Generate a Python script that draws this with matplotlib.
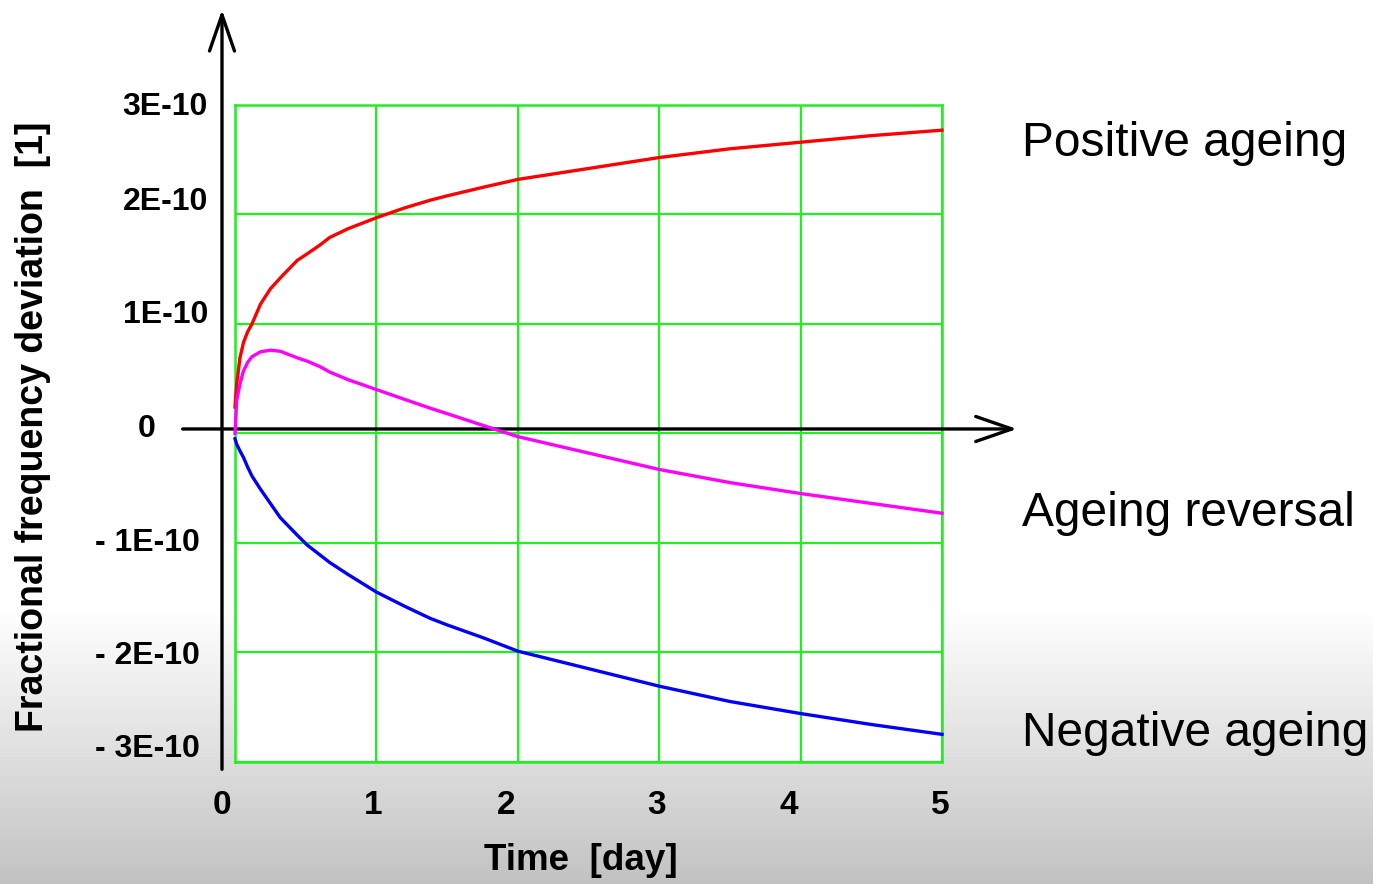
import numpy as np
import matplotlib
matplotlib.use('Agg')
import matplotlib.pyplot as plt

plt.rcParams['font.family'] = ['Liberation Sans', 'DejaVu Sans']

# time axis [day] and the three ageing curves, in units of 1E-10
t_days = [0, 0.012, 0.035, 0.06, 0.09, 0.12, 0.18, 0.25, 0.32, 0.44, 0.51, 0.6, 0.67,
          0.8, 1.0, 1.2, 1.38, 1.5, 1.76, 2.0, 2.5, 3.0, 3.5, 4.0, 4.5, 5.0]
positive = [0.24, 0.45, 0.69, 0.83, 0.93, 1.0, 1.18, 1.32, 1.42, 1.58, 1.64, 1.72, 1.79,
            1.87, 1.97, 2.06, 2.13, 2.17, 2.25, 2.32, 2.42, 2.52, 2.60, 2.66, 2.72, 2.77]
reversal = [0.0, 0.30, 0.45, 0.57, 0.65, 0.70, 0.745, 0.76, 0.75, 0.69, 0.66, 0.61, 0.56,
            0.49, 0.40, 0.31, 0.23, 0.18, 0.07, -0.03, -0.18, -0.33, -0.45, -0.55, -0.64, -0.73]
negative = [-0.05, -0.10, -0.16, -0.22, -0.31, -0.39, -0.51, -0.64, -0.77, -0.93, -1.02, -1.11, -1.18,
            -1.29, -1.45, -1.58, -1.69, -1.75, -1.87, -1.99, -2.15, -2.31, -2.45, -2.56, -2.66, -2.75]

x_ticks = [0, 1, 2, 3, 4, 5]
y_ticks = [3, 2, 1, 0, -1, -2, -3]
y_tick_labels = ['3E-10', '2E-10', '1E-10', '0', '- 1E-10', '- 2E-10', '- 3E-10']
curve_names = ['Positive ageing', 'Ageing reversal', 'Negative ageing']

W, H = 1373, 884
fig = plt.figure(figsize=(W / 100, H / 100), dpi=100)


def fx(px):
    return px / W


def fy(py):
    return 1 - py / H


# grey fade towards the bottom edge
bg = fig.add_axes([0, 0, 1, 1], zorder=0)
rows = np.arange(H)
shade = np.where(rows < 610, 1.0, 1.0 - 0.24 * (rows - 610) / (H - 610))
bg.imshow(np.dstack([shade[:, None]] * 3), aspect='auto', extent=[0, 1, 0, 1])
bg.set_axis_off()

ax = fig.add_axes([fx(235), fy(761.7), 707 / W, 656.7 / H], zorder=1)
ax.set_facecolor('white')
ax.set_xlim(0, 5)
ax.set_ylim(-3, 3)
ax.set_xticks(x_ticks)
ax.set_yticks(y_ticks)
ax.tick_params(length=0, labelbottom=False, labelleft=False)
ax.grid(True, color='#22ee22', lw=1.6)
for s in ax.spines.values():
    s.set_color('#22ee22')
    s.set_linewidth(1.8)

ax.plot(t_days, positive, color='#ff0000', lw=2.4, zorder=5, clip_on=False)
ax.plot(t_days, reversal, color='#ff00ff', lw=2.4, zorder=5, clip_on=False)
ax.plot(t_days, negative, color='#0000ff', lw=2.4, zorder=5, clip_on=False)

# black coordinate arrows
arrow = dict(arrowstyle='->,head_length=1.3,head_width=0.45', lw=2.4, color='black',
             shrinkA=0, shrinkB=0, mutation_scale=20)
ax.annotate('', xy=(-0.092, 3.87), xytext=(-0.092, -3.07), arrowprops=arrow,
            annotation_clip=False, zorder=4)
ax.annotate('', xy=(5.53, 0.04), xytext=(-0.37, 0.04), arrowprops=arrow,
            annotation_clip=False, zorder=4)

# tick labels
y_label_px = [107, 202, 315, 429, 543, 656, 749]
y_label_right = [208, 208, 208, 156, 200, 200, 200]
for lab, py, px in zip(y_tick_labels, y_label_px, y_label_right):
    fig.text(fx(px), fy(py), lab, ha='right', va='center', fontsize=23,
             fontweight='bold', zorder=3)
x_label_px = [222, 373, 506, 657, 789, 940]
for v, px in zip(x_ticks, x_label_px):
    fig.text(fx(px), fy(806), str(v), ha='center', va='center', fontsize=24,
             fontweight='bold', zorder=3)

fig.text(fx(581), fy(861), 'Time  [day]', ha='center', va='center',
         fontsize=26.5, fontweight='bold', zorder=3)
fig.text(fx(33), fy(427), 'Fractional frequency deviation  [1]', ha='center',
         va='center', rotation=90, fontsize=27, fontweight='bold', zorder=3)

for name, py in zip(curve_names, [144, 514, 734]):
    fig.text(fx(1022), fy(py), name, ha='left', va='center', fontsize=34.5, zorder=3)

fig.savefig('out.png', dpi=100)
